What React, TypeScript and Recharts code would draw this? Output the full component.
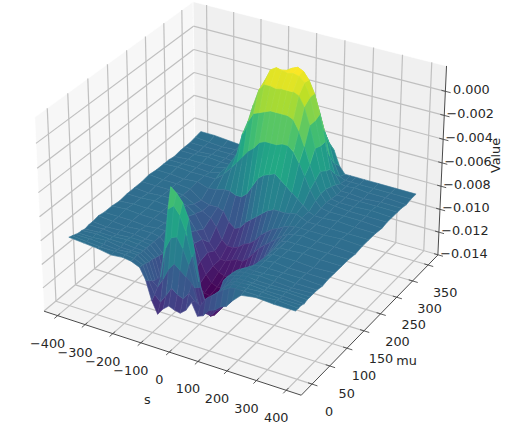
import { ScatterChart, Scatter, XAxis, YAxis } from 'recharts';

// surface samples, value unit is 1e-4
const sValues = [-392, -340, -290, -240, -200, -170, -140, -120, -100, -80, -60, -40, -20, 0, 20, 40, 60, 80, 100, 120, 140, 160, 180, 210, 260, 320, 392];
const muValues = [0, 8, 16, 24, 32, 40, 50, 60, 75, 90, 110, 130, 150, 170, 190, 210, 230, 250, 265, 280, 297, 310, 325, 340, 356];
const surfaceRows = [
    [-81, -82, -83, -85, -84, -85, -88, -97, -113, -123, -117, -113, -115, -116, -112, -104, -114, -112, -106, -104, -100, -98, -92, -85, -83, -84, -84],
    [-82, -83, -84, -84, -84, -85, -88, -100, -110, -115, -108, -100, -104, -106, -100, -105, -108, -100, -96, -92, -88, -85, -84, -84, -84, -83, -84],
    [-83, -83, -84, -85, -84, -84, -89, -102, -106, -98, -88, -82, -86, -90, -94, -110, -110, -104, -97, -92, -87, -84, -84, -84, -83, -84, -84],
    [-84, -84, -83, -85, -85, -85, -90, -104, -100, -74, -64, -62, -70, -82, -100, -120, -118, -108, -98, -92, -87, -84, -84, -83, -84, -84, -85],
    [-84, -83, -84, -84, -85, -85, -90, -106, -86, -44, -40, -46, -58, -78, -102, -122, -122, -112, -98, -90, -86, -84, -84, -84, -84, -83, -84],
    [-85, -84, -84, -83, -84, -85, -91, -108, -78, -28, -32, -38, -50, -76, -104, -124, -124, -106, -92, -87, -85, -84, -83, -84, -84, -84, -84],
    [-84, -84, -85, -84, -84, -85, -92, -110, -96, -58, -60, -68, -84, -104, -118, -130, -124, -106, -92, -87, -85, -84, -84, -83, -84, -85, -84],
    [-84, -85, -84, -84, -85, -85, -93, -114, -112, -92, -98, -108, -118, -124, -130, -132, -126, -110, -96, -88, -85, -84, -84, -84, -83, -84, -84],
    [-83, -84, -85, -84, -84, -85, -92, -116, -122, -120, -124, -128, -130, -132, -134, -132, -126, -114, -102, -94, -88, -85, -84, -84, -84, -84, -85],
    [-84, -84, -84, -85, -84, -84, -90, -112, -126, -130, -134, -135, -136, -136, -135, -132, -128, -120, -110, -100, -92, -86, -84, -83, -84, -84, -84],
    [-84, -83, -84, -84, -85, -85, -92, -106, -122, -130, -135, -136, -136, -136, -134, -130, -126, -118, -110, -102, -94, -87, -84, -84, -84, -85, -84],
    [-85, -84, -84, -84, -85, -86, -94, -102, -116, -126, -132, -134, -134, -133, -132, -128, -122, -116, -108, -100, -92, -87, -84, -84, -83, -84, -84],
    [-84, -84, -83, -84, -85, -88, -98, -104, -114, -124, -128, -130, -130, -130, -128, -122, -116, -110, -104, -97, -91, -86, -84, -84, -84, -84, -84],
    [-84, -85, -84, -84, -86, -91, -102, -112, -118, -124, -124, -122, -120, -120, -116, -110, -104, -100, -96, -92, -88, -85, -84, -83, -84, -84, -85],
    [-84, -84, -84, -85, -90, -94, -98, -104, -114, -118, -118, -116, -112, -110, -106, -100, -96, -92, -90, -87, -85, -84, -84, -84, -84, -83, -84],
    [-83, -84, -84, -85, -92, -94, -94, -96, -104, -108, -106, -100, -96, -92, -88, -84, -82, -82, -82, -81, -80, -82, -84, -84, -84, -84, -84],
    [-84, -84, -85, -84, -87, -86, -84, -84, -86, -86, -82, -74, -66, -62, -60, -58, -62, -66, -70, -74, -78, -82, -84, -84, -83, -84, -84],
    [-84, -83, -84, -84, -84, -78, -70, -64, -58, -52, -48, -42, -40, -40, -40, -38, -38, -42, -50, -60, -70, -78, -83, -84, -84, -84, -85],
    [-84, -84, -84, -85, -82, -74, -62, -44, -32, -24, -22, -20, -18, -18, -18, -18, -20, -28, -40, -54, -66, -76, -82, -83, -84, -84, -84],
    [-85, -84, -84, -84, -82, -76, -60, -40, -22, -8, -2, -2, -3, -2, -2, -2, -4, -12, -26, -44, -62, -76, -83, -84, -84, -83, -84],
    [-84, -84, -83, -84, -84, -78, -66, -44, -20, -4, 6, 9, 8, 7, 8, 7, 3, -8, -26, -46, -66, -78, -84, -84, -84, -84, -84],
    [-84, -85, -84, -84, -85, -84, -74, -56, -34, -12, -2, 4, 5, 8, 10, 8, 2, -8, -24, -46, -68, -80, -84, -84, -85, -84, -84],
    [-84, -84, -84, -84, -84, -84, -82, -74, -58, -44, -32, -24, -18, -14, -8, -10, -16, -26, -42, -62, -76, -83, -84, -83, -84, -84, -85],
    [-83, -84, -85, -84, -84, -85, -84, -82, -76, -68, -60, -54, -50, -46, -44, -44, -44, -46, -56, -72, -82, -84, -84, -84, -84, -84, -84],
    [-82, -82, -83, -84, -84, -84, -84, -84, -83, -80, -76, -72, -72, -70, -70, -68, -62, -60, -66, -78, -84, -84, -84, -84, -84, -84, -84],
];
const colorRange = [-136, 9];
const sTicks = [-400, -300, -200, -100, 0, 100, 200, 300, 400];
const muTicks = [0, 50, 100, 150, 200, 250, 300, 350];
const valueTicks = [0, -0.002, -0.004, -0.006, -0.008, -0.01, -0.012, -0.014];

const S_LIM = [-450, 450];
const MU_LIM = [-30, 382];
const Z_LIM = [-0.01402, 0.00208];
const WIDTH = 508;
const HEIGHT = 436;
const VIRIDIS = ['#440154', '#482475', '#414487', '#355f8d', '#2a788e', '#21918c', '#22a884', '#44bf70', '#7ad151', '#bddf26', '#fde725'];

const toUnit = (v: number, lim: number[]) => (2 * (v - lim[0])) / (lim[1] - lim[0]) - 1;

// same view as a default mplot3d axes, elev 30 azim -60
function project(tx: number, ty: number, tz: number) {
    const a = 0.5952 * tx;
    const b = 0.5952 * ty;
    const c = 0.4464 * tz;
    const u = 0.866 * a + 0.5 * b;
    const v = -0.25 * a + 0.433 * b + 0.866 * c;
    const d = 10 - (0.433 * a - 0.75 * b + 0.5 * c);
    return { x: u / d, y: v / d, d };
}

const dataPoint = (s: number, mu: number, z: number) => project(toUnit(s, S_LIM), toUnit(mu, MU_LIM), toUnit(z, Z_LIM));

function hexMix(t: number) {
    const pos = Math.max(0, Math.min(0.9999, t)) * (VIRIDIS.length - 1);
    const i = Math.floor(pos);
    const f = pos - i;
    const part = (hex: string, k: number) => parseInt(hex.slice(1 + k * 2, 3 + k * 2), 16);
    const ch = [0, 1, 2].map((k) => Math.round(part(VIRIDIS[i], k) * (1 - f) + part(VIRIDIS[i + 1], k) * f));
    return `rgb(${ch[0]},${ch[1]},${ch[2]})`;
}

interface Quad {
    depth: number;
    color: string;
    corners: { x: number; y: number }[];
}

const quads: Quad[] = [];
for (let r = 0; r < muValues.length - 1; r++) {
    for (let c = 0; c < sValues.length - 1; c++) {
        const cells = [[r, c], [r, c + 1], [r + 1, c + 1], [r + 1, c]];
        const corners = cells.map(([i, j]) => dataPoint(sValues[j], muValues[i], surfaceRows[i][j] * 1e-4));
        const mean = cells.reduce((acc, [i, j]) => acc + surfaceRows[i][j], 0) / 4;
        quads.push({
            depth: corners.reduce((acc, p) => acc + p.d, 0) / 4,
            color: hexMix((mean - colorRange[0]) / (colorRange[1] - colorRange[0])),
            corners,
        });
    }
}
quads.sort((p, q) => q.depth - p.depth);
const surfacePoints = quads.flatMap((q) => q.corners);

const pane = (pts: number[][]) => pts.map(([a, b, c]) => project(a, b, c));
const panes = [
    { color: '#f7f7f7', pts: pane([[-1, -1, -1], [-1, 1, -1], [-1, 1, 1], [-1, -1, 1]]) },
    { color: '#f0f0f0', pts: pane([[-1, 1, -1], [1, 1, -1], [1, 1, 1], [-1, 1, 1]]) },
    { color: '#f4f4f4', pts: pane([[-1, -1, -1], [1, -1, -1], [1, 1, -1], [-1, 1, -1]]) },
];
const panePoints = panes.flatMap((p) => p.pts);

const gridPoints = [
    ...sTicks.flatMap((t) => {
        const k = toUnit(t, S_LIM);
        return pane([[k, -1, -1], [k, 1, -1], [k, 1, -1], [k, 1, 1]]);
    }),
    ...muTicks.flatMap((t) => {
        const k = toUnit(t, MU_LIM);
        return pane([[1, k, -1], [-1, k, -1], [-1, k, -1], [-1, k, 1]]);
    }),
    ...valueTicks.flatMap((t) => {
        const k = toUnit(t, Z_LIM);
        return pane([[-1, -1, k], [-1, 1, k], [-1, 1, k], [1, 1, k]]);
    }),
];

const axisPoints = [
    ...pane([[-1, -1, -1], [1, -1, -1], [1, -1, -1], [1, 1, -1], [1, 1, -1], [1, 1, 1]]),
];

const tickPoints = [
    ...sTicks.flatMap((t) => {
        const k = toUnit(t, S_LIM);
        return pane([[k, -1.04, -1], [k, -0.97, -1]]);
    }),
    ...muTicks.flatMap((t) => {
        const k = toUnit(t, MU_LIM);
        return pane([[1.04, k, -1], [0.97, k, -1]]);
    }),
    ...valueTicks.flatMap((t) => {
        const k = toUnit(t, Z_LIM);
        return pane([[0.97, 1, k], [1.04, 1, k]]);
    }),
];

const fmtValue = (t: number) => (t < 0 ? `\u2212${(-t).toFixed(3)}` : t.toFixed(3));
const fmtInt = (t: number) => (t < 0 ? `\u2212${-t}` : `${t}`);

const labelPoints = [
    ...sTicks.map((t) => ({ ...project(toUnit(t, S_LIM), -1, -1), text: fmtInt(t), dx: -10, dy: 32 })),
    ...muTicks.map((t) => ({ ...project(1, toUnit(t, MU_LIM), -1), text: fmtInt(t), dx: 17, dy: 32 })),
    ...valueTicks.map((t) => ({ ...project(1, 1, toUnit(t, Z_LIM)), text: fmtValue(t), dx: 26, dy: 3 })),
    { ...project(0, -1, -1), text: 's', dx: -22, dy: 52 },
    { ...project(1, 0, -1), text: 'mu', dx: 34, dy: 43 },
];
const zTitlePoint = [{ ...project(1, 1, 0), text: 'Value' }];

const xDomain = [-244.6 / 2475, (WIDTH - 244.6) / 2475];
const yDomain = [(189 - HEIGHT) / 2475, 189 / 2475];

const noMark = () => <g />;

const chunk = (points: { x: number; y: number }[], n: number) => {
    const out: { x: number; y: number }[][] = [];
    for (let i = 0; i + n <= points.length; i += n) out.push(points.slice(i, i + n));
    return out;
};
const pathOf = (pts: { x: number; y: number }[]) => pts.map((p, i) => `${i ? 'L' : 'M'}${p.x.toFixed(2)} ${p.y.toFixed(2)}`).join('') + 'Z';

const drawPanes = ({ points }: any) => (
    <g>
        {chunk(points, 4).map((pts, i) => (
            <path key={i} d={pathOf(pts)} fill={panes[i].color} stroke="#fff" strokeWidth={0.6} />
        ))}
    </g>
);
const drawSegments = (stroke: string, width: number) =>
    ({ points }: any) => (
        <g>
            {chunk(points, 2).map((pts, i) => (
                <path key={i} d={`M${pts[0].x} ${pts[0].y}L${pts[1].x} ${pts[1].y}`} stroke={stroke} strokeWidth={width} fill="none" />
            ))}
        </g>
    );
const drawSurface = ({ points }: any) => (
    <g>
        {chunk(points, 4).map((pts, i) => (
            <g key={i}>
                <path d={pathOf(pts)} fill={quads[i].color} stroke={quads[i].color} strokeWidth={0.6} strokeLinejoin="round" />
                <path d={pathOf(pts)} fill="none" stroke="#ffffff" strokeOpacity={0.1} strokeWidth={0.4} />
            </g>
        ))}
    </g>
);

const drawLabel = ({ cx, cy, payload }: any) => (
    <text x={cx + payload.dx} y={cy + payload.dy} textAnchor="middle" fontFamily="'DejaVu Sans'" fontSize={12.8} fill="#262626">
        {payload.text}
    </text>
);
const drawZTitle = ({ cx, cy, payload }: any) => (
    <text transform={`translate(${cx + 58} ${cy - 7}) rotate(-90)`} textAnchor="middle" fontFamily="'DejaVu Sans'" fontSize={12.8} fill="#262626">
        {payload.text}
    </text>
);

export default function App() {
    return (
        <div style={{ position: 'absolute', left: 0, top: 0, width: WIDTH, height: HEIGHT, background: '#fff' }}>
            <ScatterChart width={WIDTH} height={HEIGHT} margin={{ top: 0, right: 0, bottom: 0, left: 0 }}>
                <XAxis type="number" dataKey="x" domain={xDomain} hide allowDataOverflow />
                <YAxis type="number" dataKey="y" domain={yDomain} hide allowDataOverflow />
                <Scatter data={panePoints} line={drawPanes} shape={noMark} isAnimationActive={false} />
                <Scatter data={gridPoints} line={drawSegments('#c0c0c0', 1.2)} shape={noMark} isAnimationActive={false} />
                <Scatter data={axisPoints} line={drawSegments('#4a4a4a', 1)} shape={noMark} isAnimationActive={false} />
                <Scatter data={tickPoints} line={drawSegments('#4a4a4a', 0.9)} shape={noMark} isAnimationActive={false} />
                <Scatter data={surfacePoints} line={drawSurface} shape={noMark} isAnimationActive={false} />
                <Scatter data={labelPoints} shape={drawLabel} isAnimationActive={false} />
                <Scatter data={zTitlePoint} shape={drawZTitle} isAnimationActive={false} />
            </ScatterChart>
        </div>
    );
}
